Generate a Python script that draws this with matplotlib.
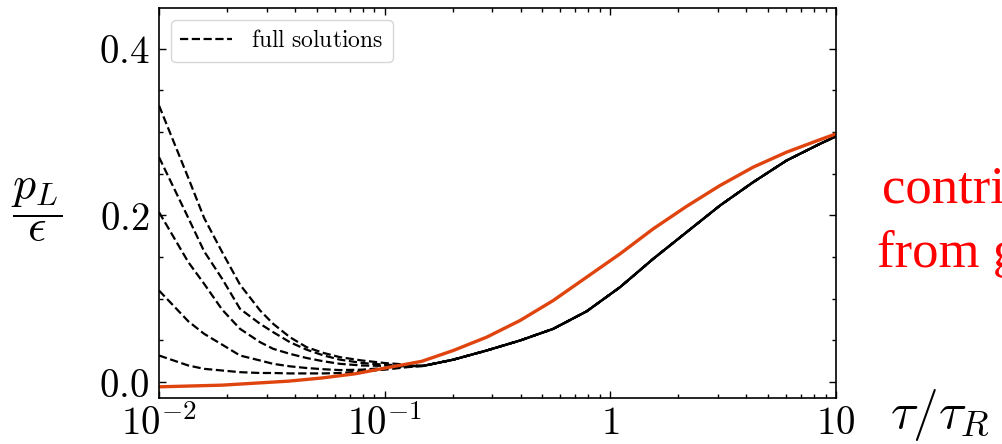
import numpy as np
import matplotlib
matplotlib.use('Agg')
import matplotlib.pyplot as plt
from matplotlib.ticker import FixedLocator, NullFormatter, MultipleLocator

plt.rcParams['mathtext.fontset'] = 'cm'
plt.rcParams['font.family'] = ['DejaVu Serif']

# log10(tau/tau_R)
logt_full = [-2, -1.87, -1.8, -1.72, -1.641, -1.552, -1.494, -1.42, -1.346, -1.27, -1.198,
             -1.1, -1.0, -0.9, -0.83,
             -0.696, -0.548, -0.4, -0.253, -0.105, 0.043, 0.19, 0.338, 0.486, 0.633, 0.781, 0.929, 1.0]
tail = [0.027, 0.038, 0.050, 0.064, 0.085, 0.114, 0.148, 0.180, 0.212, 0.240, 0.266, 0.286, 0.295]
full1 = [0.332, 0.245, 0.197, 0.156, 0.117, 0.086, 0.070, 0.054, 0.042, 0.035, 0.030,
         0.026, 0.023, 0.021, 0.0195] + tail
full2 = [0.270, 0.197, 0.157, 0.124, 0.088, 0.070, 0.060, 0.048, 0.039, 0.032, 0.027,
         0.023, 0.021, 0.020, 0.0195] + tail
full3 = [0.204, 0.144, 0.118, 0.087, 0.064, 0.048, 0.040, 0.034, 0.029, 0.025, 0.022,
         0.020, 0.0195, 0.019, 0.0195] + tail
full4 = [0.110, 0.073, 0.058, 0.045, 0.032, 0.026, 0.022, 0.019, 0.017, 0.0155, 0.0145,
         0.015, 0.017, 0.0185, 0.0195] + tail
full5 = [0.032, 0.020, 0.016, 0.014, 0.012, 0.011, 0.011, 0.0105, 0.0105, 0.0105, 0.011,
         0.013, 0.015, 0.018, 0.0195] + tail

logt_black = [-0.83, -0.696, -0.548, -0.4, -0.253, -0.105, 0.043, 0.19, 0.338, 0.486, 0.633,
              0.781, 0.929, 1.0]
black = [0.0195] + tail

logt_red = [-2, -1.722, -1.427, -1.279, -1.132, -0.985, -0.836, -0.696, -0.548, -0.4, -0.253,
            -0.105, 0.043, 0.19, 0.338, 0.486, 0.633, 0.781, 0.929, 1.0]
red = [-0.0056, -0.0036, 0.0012, 0.005, 0.010, 0.0176, 0.025, 0.038, 0.054, 0.074, 0.098,
       0.126, 0.154, 0.184, 0.211, 0.236, 0.258, 0.276, 0.291, 0.298]

xticks = [0.01, 0.1, 1, 10]
xticklabels = [r'$10^{-2}$', r'$10^{-1}$', r'$1$', r'$10$']
yticks = [0.0, 0.2, 0.4]
yticklabels = [r'$0.0$', r'$0.2$', r'$0.4$']

fig = plt.figure(figsize=(10.02, 4.44), dpi=100)
ax = fig.add_axes([159/1002, 46/444, 677/1002, 390/444])

t_full = 10**np.array(logt_full)
for k, f in enumerate([full1, full2, full3, full4, full5]):
    ax.plot(t_full, f, 'k--', lw=1.6, label='$\\mathrm{full\\ solutions}$' if k == 0 else None)
ax.plot(10**np.array(logt_black), black, 'k-', lw=1.6)
ax.plot(10**np.array(logt_red), red, '-', color='#e0440e', lw=2.4)

ax.set_xscale('log')
ax.set_xlim(0.01, 10)
ax.set_ylim(-0.019, 0.449)
ax.xaxis.set_major_locator(FixedLocator(xticks))
ax.set_xticklabels(xticklabels)
ax.xaxis.set_minor_formatter(NullFormatter())
ax.set_yticks(yticks)
ax.set_yticklabels(yticklabels)
ax.yaxis.set_minor_locator(MultipleLocator(0.05))
ax.tick_params(which='both', direction='in', top=True, right=True, width=1.0)
ax.tick_params(which='major', length=5, labelsize=28)
ax.tick_params(which='minor', length=3)
ax.tick_params(axis='x', pad=5)
ax.tick_params(axis='y', pad=7)
for s in ax.spines.values():
    s.set_linewidth(1.2)

ax.legend(loc='upper left', fontsize=17, handlelength=2.2, fancybox=True, framealpha=0.8)

fig.text(37/1002, 1 - 210/444, r'$\dfrac{p_L}{\epsilon}$', fontsize=33, ha='center', va='center')
fig.text(890/1002, 16/444, r'$\tau/\tau_R$', fontsize=37, ha='left', va='baseline')
fig.text(882/1002, 1 - 202/444, 'contributions', fontsize=38, color='red',
         family='Liberation Serif', ha='left', va='baseline')
fig.text(877/1002, 1 - 267/444, 'from gradients', fontsize=38, color='red',
         family='Liberation Serif', ha='left', va='baseline')

fig.savefig('out.png', dpi=100)
